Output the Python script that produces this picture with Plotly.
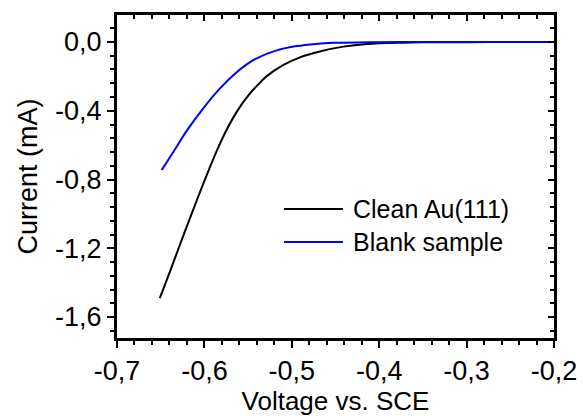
import plotly.graph_objects as go

# Data
clean_v = [-0.651, -0.639, -0.624, -0.609, -0.597, -0.586, -0.576, -0.567, -0.557,
           -0.548, -0.538, -0.529, -0.510, -0.490, -0.468, -0.441, -0.414, -0.373,
           -0.35, -0.30, -0.25, -0.20]
clean_i = [-1.49, -1.33, -1.125, -0.925, -0.77, -0.635, -0.525, -0.44, -0.36,
           -0.30, -0.245, -0.20, -0.135, -0.088, -0.055, -0.027, -0.012, -0.004,
           -0.002, -0.001, 0.0, 0.0]

blank_v = [-0.649, -0.645, -0.6356, -0.6203, -0.6013, -0.5822, -0.5631, -0.5516,
           -0.5402, -0.5173, -0.4944, -0.4725, -0.4525, -0.411, -0.35, -0.30, -0.25, -0.20]
blank_i = [-0.745, -0.715, -0.64, -0.517, -0.386, -0.270, -0.176, -0.13,
           -0.095, -0.049, -0.024, -0.011, -0.005, -0.001, 0.0, 0.0, 0.0, 0.0]

series_names = ["Clean Au(111)", "Blank sample"]
series_colors = ["#000000", "#0000ff"]

x_ticks = [-0.7, -0.6, -0.5, -0.4, -0.3, -0.2]
x_ticklabels = ["-0,7", "-0,6", "-0,5", "-0,4", "-0,3", "-0,2"]
y_ticks = [0.0, -0.4, -0.8, -1.2, -1.6]
y_ticklabels = ["0,0", "-0,4", "-0,8", "-1,2", "-1,6"]

FONT = "Liberation Sans, Arial, sans-serif"

fig = go.Figure()
fig.add_trace(go.Scatter(x=clean_v, y=clean_i, mode="lines", name=series_names[0],
                         line=dict(color=series_colors[0], width=2, shape="spline",
                                   smoothing=1.0),
                         showlegend=False))
# blue series drawn on the mirrored axes (identical ranges) so they get rendered
fig.add_trace(go.Scatter(x=blank_v, y=blank_i, mode="lines", name=series_names[1],
                         xaxis="x2", yaxis="y2",
                         line=dict(color=series_colors[1], width=2, shape="spline",
                                   smoothing=1.0),
                         showlegend=False))

xr = [-0.7, -0.2]
yr = [-1.722, 0.157]

common = dict(showline=True, linewidth=3, linecolor="black", showgrid=False,
              zeroline=False, tickcolor="black", tickwidth=2, automargin=False)

fig.update_layout(
    width=583, height=416,
    margin=dict(l=117, r=29, t=15, b=78),
    paper_bgcolor="white", plot_bgcolor="white",
    font=dict(family=FONT, color="black"),
    xaxis=dict(range=xr, tickmode="array", tickvals=x_ticks, ticktext=x_ticklabels,
               ticks="outside", ticklen=7,
               minor=dict(dtick=0.02, tick0=-0.7, ticks="outside", ticklen=4,
                          tickwidth=2, tickcolor="black"),
               tickfont=dict(size=27),
               title=dict(text="Voltage vs. SCE", font=dict(size=26), standoff=4),
               **common),
    yaxis=dict(range=yr, tickmode="array", tickvals=y_ticks, ticktext=y_ticklabels,
               ticks="outside", ticklen=7,
               minor=dict(dtick=0.08, tick0=0.0, ticks="outside", ticklen=4,
                          tickwidth=2, tickcolor="black"),
               tickfont=dict(size=27),
               title=dict(text="Current (mA)", font=dict(size=27), standoff=10),
               **common),
    xaxis2=dict(range=xr, overlaying="x", side="top", showticklabels=False,
                tickmode="array", tickvals=x_ticks, ticks="inside", ticklen=6,
                minor=dict(dtick=0.02, tick0=-0.7, ticks="inside", ticklen=4,
                           tickwidth=2, tickcolor="black"),
                **common),
    yaxis2=dict(range=yr, overlaying="y", side="right", showticklabels=False,
                tickmode="array", tickvals=y_ticks, ticks="inside", ticklen=6,
                minor=dict(dtick=0.08, tick0=0.0, ticks="inside", ticklen=4,
                           tickwidth=2, tickcolor="black"),
                **common),
)

# Manual legend (long line samples like the reference)
legend_y = [0.399, 0.297]
for name, color, ly in zip(series_names, series_colors, legend_y):
    fig.add_shape(type="line", xref="paper", yref="paper", x0=0.382, x1=0.517,
                  y0=ly, y1=ly, line=dict(color=color, width=2))
    fig.add_annotation(xref="paper", yref="paper", x=0.536, y=ly, text=name,
                       showarrow=False, xanchor="left", yanchor="middle",
                       font=dict(size=25, family=FONT, color="black"))

fig.write_html("out.html",
               config={"displayModeBar": False},
               post_script="document.body.style.margin='0';"
                           "document.body.style.padding='0';")
